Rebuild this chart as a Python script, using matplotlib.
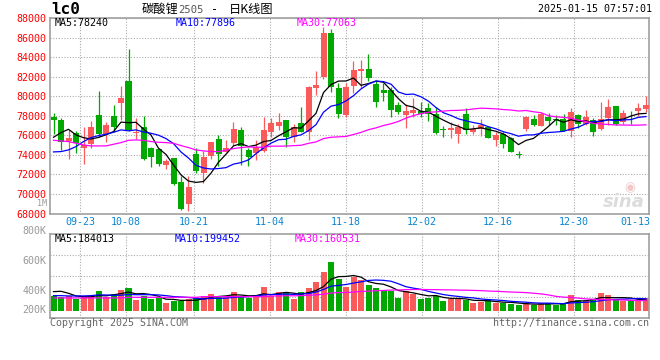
import matplotlib
matplotlib.use("Agg")
import matplotlib.pyplot as plt
import matplotlib.transforms as mtransforms
import numpy as np
import pandas as pd

plt.rcParams['font.family'] = ['DejaVu Sans Mono', 'Noto Sans CJK SC']

# --- daily bars for lc0 (oldest first, last = 01-14) ---
open_ = [77889, 77548, 75469, 76253, 74753, 75162, 78093, 76117, 77991, 79354,
         81569, 76219, 76832, 74753, 74583, 72981, 73663, 71277, 68960, 74072,
         72129, 73935, 75639, 74344, 75264, 76559, 74515, 74174, 74412, 76321,
         77002, 77548, 75878, 77241, 76321, 80888, 82012, 86545, 80820, 78093,
         81092, 82592, 82796, 81228, 80649, 80649, 79115, 78093, 78263, 78536,
         78775, 78161, 76662, 76593, 76185, 78195, 76389, 76662, 76900, 75537,
         76117, 75776, 74037, 76696, 77684, 77002, 77923, 77684, 77684, 76491,
         78093, 77139, 77582, 76662, 77820, 79013, 77343, 78025, 78502, 78707]
high_ = [78298, 77752, 76559, 76457, 76900, 77480, 80547, 77343, 79115, 81092,
         84841, 77752, 77991, 74855, 74753, 73560, 73731, 71822, 71890, 74753,
         74412, 75367, 76048, 75537, 77411, 76866, 74753, 75537, 77923, 77752,
         78263, 77548, 77139, 78945, 81092, 82592, 87124, 86886, 81330, 81330,
         83614, 83716, 84296, 81569, 81330, 80990, 79388, 79184, 79797, 79388,
         79286, 78945, 76968, 77343, 77139, 78775, 77071, 77650, 76968, 76321,
         76321, 75878, 74412, 77991, 78093, 78434, 78263, 78093, 78161, 78775,
         78229, 78604, 77820, 79388, 79729, 79013, 78604, 78502, 79286, 80036]
low_ = [76184, 74549, 73594, 74174, 73117, 74753, 75878, 75367, 76389, 77548,
        76457, 75639, 73492, 72811, 72913, 72606, 70936, 68346, 68210, 72163,
        71107, 73594, 72913, 74276, 75026, 72981, 72913, 73492, 74344, 75878,
        76559, 74855, 75367, 76321, 75537, 80138, 81774, 80479, 77820, 77923,
        80308, 80820, 81569, 78945, 79525, 77923, 78195, 76798, 77923, 77855,
        77480, 76150, 75878, 75776, 75230, 76185, 76185, 75980, 75708, 74958,
        74753, 74276, 73731, 76491, 76968, 76968, 77071, 77071, 76457, 75878,
        76730, 77071, 75980, 76559, 77071, 77071, 77207, 77207, 78025, 78434]
close_ = [77548, 75367, 75741, 75196, 74992, 76866, 76185, 77071, 76866, 79831,
          76559, 76389, 73594, 73833, 73049, 73390, 71038, 68482, 70664, 72368,
          73833, 75333, 74072, 74753, 76662, 74958, 73833, 74821, 76559, 77241,
          77343, 75878, 76900, 76389, 80956, 81160, 86545, 80990, 78195, 80990,
          82694, 82796, 81910, 79456, 80376, 78604, 78434, 78502, 78604, 78195,
          78195, 76287, 76525, 76730, 76900, 76559, 76662, 77071, 75776, 76048,
          75162, 74344, 73969, 77923, 77071, 78161, 77480, 77548, 76491, 78366,
          77139, 77923, 76389, 77684, 78877, 77139, 78298, 77957, 78775, 79115]
volume = [249000, 226000, 249000, 198000, 249000, 249000, 333000, 226000, 283000, 350000,
          384000, 181000, 249000, 198000, 209000, 130000, 170000, 164000, 198000, 220000,
          249000, 283000, 249000, 249000, 316000, 226000, 215000, 266000, 401000, 249000,
          316000, 316000, 198000, 316000, 384000, 486000, 655000, 825000, 531000, 401000,
          565000, 520000, 435000, 384000, 333000, 333000, 220000, 333000, 283000, 198000,
          220000, 249000, 170000, 198000, 198000, 181000, 130000, 147000, 181000, 130000,
          130000, 113000, 90000, 130000, 90000, 130000, 130000, 102000, 130000, 266000,
          181000, 164000, 198000, 299000, 260000, 181000, 164000, 164000, 181000, 215000]

# moving-average values on the left edge, before a full window exists
ma5_head = [75810, 76287, 76628, 76048]
ma10_head = [74310, 74344, 74515, 74855, 75367, 75776, 75980, 76117, 76321]
ma30_head = [75503, 75435, 75367, 75196, 75026, 74924, 74924, 74924, 75094, 75264,
             75503, 75537, 75503, 75367, 75299, 75264, 75196, 74958, 74753, 74515,
             74412, 74344, 74344, 74480, 74651, 74753, 74821, 74787, 74787]
vol_ma5_head = [322000, 328000, 294000, 249000]
vol_ma10_head = [254000, 254000, 249000, 249000, 249000, 254000, 266000, 266000, 260000]
vol_ma30_head = [215000] * 10 + [226000] * 10 + [237000] * 9

date_labels = ['09-23', '10-08', '10-21', '11-04', '11-18', '12-02', '12-16', '12-30', '01-13']
date_bar = [4, 10, 19, 29, 39, 49, 59, 69, 78]
price_ticks = list(range(68000, 88001, 2000))
vol_labels = ['1M', '800K', '600K', '400K', '200K']
vol_label_px = [203.8, 230.7, 260.7, 290.7, 310]   # where sina prints them

UP = '#fa5a5a'
DOWN = '#00a800'
GRID = '#aaaaaa'
EDGE = '#a0a0a0'
W, H = 660, 360


def ma(values, n, head):
    out = pd.Series(values, dtype=float).rolling(n).mean().to_numpy()
    out[:n - 1] = head
    return out


def box(left, top, right, bottom):
    return [left / W, 1 - bottom / H, (right - left) / W, (bottom - top) / H]


def ftext(px, py, s, **kw):
    kw.setdefault('va', 'center')
    kw.setdefault('fontsize', 7.2)
    fig.text(px / W, 1 - py / H, s, **kw)


x = np.arange(len(close_))
o = np.array(open_, float)
c = np.array(close_, float)
colors = [DOWN if cc < oo else UP for oo, cc in zip(o, c)]

fig = plt.figure(figsize=(6.6, 3.6), dpi=100)
ax = fig.add_axes(box(50, 18.3, 649.3, 213.5))
axv = fig.add_axes(box(50, 234.3, 649.3, 318.3))

# candle centres sit at 53.5 + 7.5*i px; date grid runs at 7.6 px per bar
xlim = ((50 - 53.5) / 7.5, (649.3 - 53.5) / 7.5)
grid_x = [(80 + (b - 4) * 7.6 - 53.5) / 7.5 for b in date_bar]

for a in (ax, axv):
    a.set_xlim(*xlim)
    a.set_xticks(grid_x[:-1])
    a.set_xticklabels([])
    a.tick_params(axis='x', length=0)
    a.grid(axis='x', color=GRID, linestyle=(0, (1, 1.5)), linewidth=0.8, zorder=0)
    for sp in a.spines.values():
        sp.set_color(EDGE)
        sp.set_linewidth(1.2)

# --- price panel ---
ax.set_ylim(68000, 88000)
ax.set_yticks(price_ticks)
ax.set_yticklabels([str(t) for t in price_ticks])
ax.tick_params(axis='y', length=0, pad=2.4, colors='red', labelsize=7.2)
ax.grid(axis='y', color=GRID, linestyle=(0, (1, 1.5)), linewidth=0.8, zorder=0)

ax.vlines(x, low_, high_, colors=colors, linewidth=0.9, zorder=2)
body_h = np.maximum(np.abs(c - o), 80)
ax.bar(x, body_h, bottom=np.minimum(o, c), width=0.8, color=colors, linewidth=0, zorder=3)

ax.plot(x, ma(close_, 5, ma5_head), color='black', lw=0.9, zorder=4)
ax.plot(x, ma(close_, 10, ma10_head), color='#0000ff', lw=0.9, zorder=4)
ax.plot(x, ma(close_, 30, ma30_head), color='#ff00ff', lw=0.9, zorder=4)

tr = mtransforms.blended_transform_factory(ax.transData, ax.transAxes)
for gx, lab in zip(grid_x[:-1], date_labels[:-1]):
    ax.text(gx, -0.0435, lab, transform=tr, ha='center', va='center',
            color='#0a84d0', fontsize=7.2)
ax.text(1.002, -0.0435, date_labels[-1], transform=ax.transAxes, ha='right',
        va='center', color='#0a84d0', fontsize=7.2)

# --- volume panel (bars start at 0) ---
vlo, vhi = -130000, 1294000
axv.set_ylim(vlo, vhi)
axv.set_yticks([])
for f in (0.25, 0.5, 0.75):
    axv.axhline(vlo + f * (vhi - vlo), color=GRID, linestyle=(0, (1, 1.5)),
                linewidth=0.8, zorder=0)
axv.bar(x, volume, width=0.8, color=colors, linewidth=0, zorder=2)
axv.plot(x, ma(volume, 5, vol_ma5_head), color='black', lw=0.9, zorder=3)
axv.plot(x, ma(volume, 10, vol_ma10_head), color='#0000ff', lw=0.9, zorder=3)
axv.plot(x, ma(volume, 30, vol_ma30_head), color='#ff00ff', lw=0.9, zorder=3)

for lab, py in zip(vol_labels, vol_label_px):
    axv.text(-3.3 / 599.3, (318.3 - py) / 84, lab, transform=axv.transAxes,
             ha='right', va='center', color='#999999',
             fontsize=6 if lab == '1M' else 7.2)

# --- header and footer texts ---
ftext(51, 9.5, 'lc0', fontsize=11.5, fontweight='bold')
ftext(142, 9.5, '碳酸锂', fontsize=8.8, family=['Noto Sans CJK SC'])
ftext(178, 10, '2505', fontsize=7.6, color='#555555')
ftext(211, 9.5, '-', fontsize=8.5)
ftext(229, 9.5, '日K线图', fontsize=8.8, family=['Noto Sans CJK SC', 'DejaVu Sans'])
ftext(652, 9.5, '2025-01-15 07:57:01', ha='right')

ftext(55, 23, 'MA5:78240', color='black')
ftext(176, 23, 'MA10:77896', color='#0000ff')
ftext(297, 23, 'MA30:77063', color='#ff00ff')

ftext(55, 238.5, 'MA5:184013', color='black')
ftext(175, 238.5, 'MA10:199452', color='#0000ff')
ftext(295, 238.5, 'MA30:160531', color='#ff00ff')

ftext(50, 323.5, 'Copyright 2025 SINA.COM', color='#666666')
ftext(649, 323.5, 'http://finance.sina.com.cn', color='#666666', ha='right')

# faint sina watermark
ftext(630, 188, '\u25c9', fontsize=9, color='#f3c8c8', family=['DejaVu Sans'], ha='center')
ftext(624, 202, 'sina', fontsize=13, color='#dcdcdc', fontweight='bold',
      style='italic', family=['DejaVu Sans'], ha='center')

fig.savefig('out.png', dpi=100)
